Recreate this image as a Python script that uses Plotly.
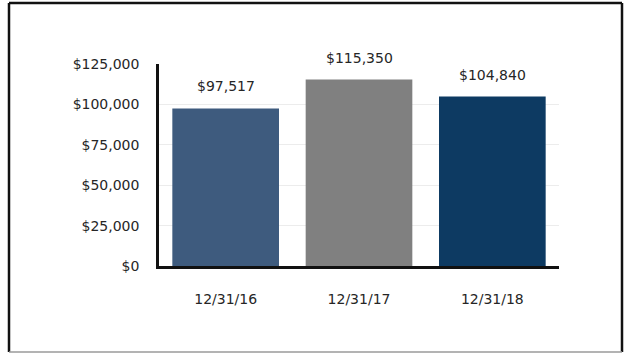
import plotly.graph_objects as go

categories = ["12/31/16", "12/31/17", "12/31/18"]
values = [97517, 115350, 104840]
bar_colors = ["#3E5B7E", "#808080", "#0D3A62"]
tick_vals = [0, 25000, 50000, 75000, 100000, 125000]
tick_text = ["$0", "$25,000", "$50,000", "$75,000", "$100,000", "$125,000"]

font_family = "DejaVu Sans"
text_color = "#262626"

fig = go.Figure(
    go.Bar(
        x=categories,
        y=values,
        marker=dict(color=bar_colors, line=dict(width=0)),
        hoverinfo="skip",
    )
)

for cat, val in zip(categories, values):
    fig.add_annotation(
        x=cat, y=val, text=f"${val:,}",
        showarrow=False, yanchor="bottom", yshift=12,
        font=dict(family=font_family, size=14, color=text_color),
    )

# Outer frame: dark on three sides, a lighter grey rule along the bottom
W, H = 400, 202
x0, x1 = -150 / W, 463 / W
y0, y1 = -86 / H, 1 + 61 / H
frame = dict(color="#111111", width=2.5)
fig.add_shape(type="line", xref="paper", yref="paper", x0=x0, x1=x0, y0=y0, y1=y1, line=frame, layer="below")
fig.add_shape(type="line", xref="paper", yref="paper", x0=x1, x1=x1, y0=y0, y1=y1, line=frame, layer="below")
fig.add_shape(type="line", xref="paper", yref="paper", x0=x0, x1=x1, y0=y1, y1=y1, line=frame, layer="below")
fig.add_shape(type="line", xref="paper", yref="paper", x0=x0, x1=x1, y0=y0, y1=y0,
              line=dict(color="#9a9a9a", width=1.5), layer="below")

fig.update_layout(
    width=626, height=354,
    margin=dict(l=159, r=67, t=64, b=88),
    paper_bgcolor="white", plot_bgcolor="white",
    bargap=0.2, showlegend=False,
    font=dict(family=font_family, size=14, color=text_color),
)
fig.update_xaxes(
    showline=True, linecolor="#111111", linewidth=2.5,
    showgrid=False, ticks="", ticklabelstandoff=18,
    tickfont=dict(family=font_family, size=14, color=text_color),
)
fig.update_yaxes(
    range=[0, 125000], tickvals=tick_vals, ticktext=tick_text,
    showline=True, linecolor="#111111", linewidth=2.5,
    showgrid=True, gridcolor="#ececec", gridwidth=1,
    zeroline=False, ticks="", ticklabelstandoff=14,
    tickfont=dict(family=font_family, size=14, color=text_color),
)

fig.write_html("out.html")
